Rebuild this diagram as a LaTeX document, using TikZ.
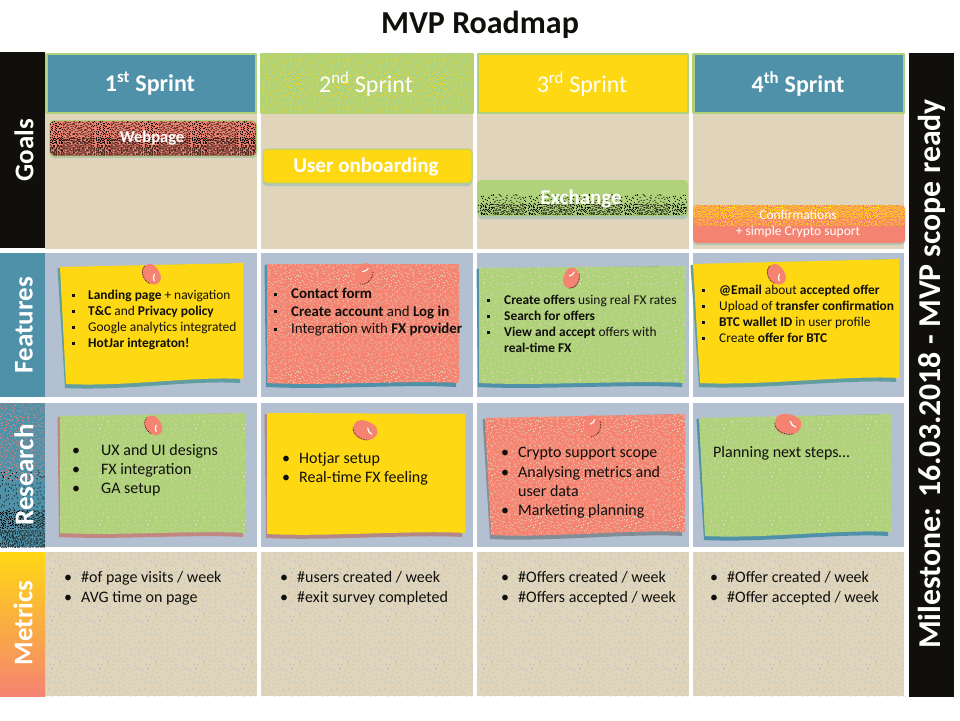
\documentclass[tikz,border=0pt]{standalone}
\usepackage{fontspec}
\setmainfont{Carlito}
\usetikzlibrary{patterns}
\definecolor{teal}{HTML}{4F91A8}
\definecolor{grn}{HTML}{AFD27A}
\definecolor{yel}{HTML}{FFD814}
\definecolor{coral}{HTML}{F58371}
\definecolor{beige}{HTML}{E0D5BA}
\definecolor{slate}{HTML}{B3C0D1}
\definecolor{ink}{HTML}{100F0C}
\pgfmathsetseed{4711}
% tiled one-pixel dither: name, cell size; one jittered dot per cell of a 48-pixel tile
\newcommand\dither[2]{%
  \pgfdeclarepatternformonly{#1}{\pgfpointorigin}{\pgfpoint{48pt}{48pt}}{\pgfpoint{48pt}{48pt}}{%
    \pgfmathtruncatemacro\cells{48/#2}%
    \foreach \i in {1,...,\cells}{\foreach \j in {1,...,\cells}{%
      \pgfmathtruncatemacro\px{(\i-1)*#2+int(rnd*#2)}\pgfmathtruncatemacro\py{(\j-1)*#2+int(rnd*#2)}%
      \pgfpathrectangle{\pgfpoint{\px pt}{\py pt}}{\pgfpoint{1pt}{1pt}}\pgfusepath{fill}}}}}
\dither{dsparse}{4}
\dither{dmid}{3}
\dither{ddense}{2}
\dither{dheavy}{2}
\newcommand\sq{\makebox[\ind][l]{\rule[0.2em]{3pt}{3pt}}}
\newcommand\rd{\makebox[\ind][l]{•}}
\newcommand\nb{\makebox[\ind][l]{}}
\newlength\ind
% name, x, y of first line, size, leading, indent, lines
\newcommand\listnode[7]{%
  \setlength\ind{#6pt}%
  \node[lst,font=\fontsize{#4}{#5}\selectfont] (#1) at ({#2},{#3+0.23*#4-0.7*#5}) {#7};}
% corners: tl, tr, br, bl; fill; shadow; dither options
\newcommand\note[7]{%
  \fill[#6] ([shift={(-2.5,1)}]#1) -- ([shift={(-2,0)}]#2) -- ([shift={(-3,4)}]#3)
     .. controls +(-50,-3) and +(60,3) .. ([shift={(-1,4)}]#4) -- cycle;
  \fill[#5] (#1) -- (#2) -- (#3) .. controls +(-50,-3) and +(60,3) .. (#4) -- cycle;
  \path[#7] (#1) -- (#2) -- (#3) .. controls +(-50,-3) and +(60,3) .. (#4) -- cycle;}
\newcommand\pin[4]{%
  \begin{scope}[shift={(#1,#2)},rotate=#3,scale=#4]
    \fill[coral] (-10,-1) .. controls (-10,-8) and (0,-9) .. (6,-7)
       .. controls (11,-5) and (11,2) .. (6,5) .. controls (0,9) and (-10,8) .. cycle;
    \draw[ink,densely dotted,line width=.7pt] (-10,1) .. controls (-9,6) and (0,9) .. (6,5);
    \draw[white,line width=1.2pt,line cap=round] (1,-3) .. controls (2,-1) and (4,0) .. (6,0);
  \end{scope}}
\tikzset{
  lst/.style={anchor=north west,inner sep=0pt,align=left,text=ink},
  hdr/.style={draw=grn,line width=2.6pt},
  hlabel/.style={text=white,inner sep=0pt,font=\fontsize{24}{26}\selectfont},
  goal/.style={rounded corners=4pt,draw=grn,line width=1pt},
  glow/.style={fill=slate!70!grn,rounded corners=4pt},
  glabel/.style={text=white,inner sep=0pt,font=\fontsize{21}{23}\selectfont\bfseries},
  side/.style={text=white,rotate=90,font=\fontsize{27}{29}\selectfont\bfseries,inner sep=0pt},
  sparse/.style={pattern=dsparse,pattern color=#1},
  mid/.style={pattern=dmid,pattern color=#1},
  dense/.style={pattern=ddense,pattern color=#1},
  heavy/.style={pattern=dheavy,pattern color=#1},
}
\begin{document}
\begin{tikzpicture}[x=1pt,y=-1pt,line join=round]
\useasboundingbox (0,0) rectangle (960,720);
\fill[white] (0,0) rectangle (960,720);
\node[font=\fontsize{32}{34}\selectfont\bfseries,text=ink,inner sep=0pt] (title) at (480,25) {MVP Roadmap};

% grid cells
\foreach \a/\b in {45/257,261/473,477/689,693/904}{
  \fill[beige] (\a,113) rectangle (\b,249);
  \fill[slate] (\a,253) rectangle (\b,397);
  \fill[slate] (\a,403) rectangle (\b,547);
  \fill[beige] (\a,552) rectangle (\b,696);
  \path[sparse=slate] (\a,552) rectangle (\b,696);
}

% sprint headers
\draw[hdr,fill=teal] (46.5,54) rectangle (256,113);
\draw[hdr,fill=grn] (261,54) rectangle (473,113);
\path[mid=yel] (261,54) rectangle (473,113);
\draw[hdr,fill=yel] (478,54) rectangle (688,113);
\draw[hdr,fill=teal] (693.5,54) rectangle (904,113);
\node[hlabel,font=\fontsize{24}{26}\selectfont\bfseries] (s1) at (150,84) {1\textsuperscript{st} Sprint};
\node[hlabel] (s2) at (366,84) {2\textsuperscript{nd} Sprint};
\node[hlabel] (s3) at (582,84) {3\textsuperscript{rd} Sprint};
\node[hlabel,font=\fontsize{24}{26}\selectfont\bfseries] (s4) at (798,84) {4\textsuperscript{th} Sprint};

% row labels
\fill[ink] (0,52) rectangle (45,248);
\fill[teal] (0,253) rectangle (45,397);
\fill[teal] (0,403) rectangle (45,547);
\path[mid=coral] (0,403) rectangle (45,480);
\path[sparse=ink] (0,470) rectangle (45,547);
\path[dense=ink] (0,510) rectangle (45,547);
\shade[top color=yel,middle color=yel!55!coral,bottom color=coral] (0,552) rectangle (45,696);
\fill[ink] (909,53) rectangle (954,697);
\node[side] (goals) at (24,150) {Goals};
\node[side] (features) at (24,325) {Features};
\node[side] (research) at (24,475) {Research};
\node[side] (metrics) at (23,623) {Metrics};
\node[side,font=\fontsize{31.8}{34}\selectfont\bfseries] (mile) at (932,374) {Milestone: 16.03.2018 - MVP scope ready};

% goals
\fill[glow] (50,122) rectangle (257,158);
\draw[goal,fill=coral] (49.5,120.5) rectangle (256.5,156);
\path[dense=ink,rounded corners=4pt] (50,121) rectangle (256,155.5);
\path[heavy=ink,rounded corners=4pt] (50,138) rectangle (256,155.5);
\node[glabel,font=\fontsize{16.5}{18}\selectfont\bfseries] (webpage) at (152,138.5) {Webpage};
\fill[glow] (263,152) rectangle (472,186);
\draw[goal,fill=yel] (263,149) rectangle (472,183);
\node[glabel] (user) at (366,167) {User onboarding};
\fill[glow] (478,182) rectangle (688,219);
\fill[grn,rounded corners=4pt] (477,180) rectangle (688,216);
\path[mid=ink,rounded corners=4pt] (478,194) rectangle (687,215);
\path[dense=ink,rounded corners=4pt] (478,204) rectangle (687,215);
\node[glabel] (exchange) at (581,199) {Exchange};
\fill[glow] (693,207) rectangle (905,245);
\fill[coral,rounded corners=4pt] (693,205) rectangle (905,243);
\path[heavy=yel,rounded corners=4pt] (693,205) rectangle (905,226);
\path[dense=yel,rounded corners=4pt] (693,205) rectangle (905,218);
\node[text=white,font=\fontsize{13.5}{16}\selectfont,inner sep=0pt,align=center] (confirm) at (798,223.5) {Confirmations\\+ simple Crypto suport};

% feature notes
\note{60,267}{243,263}{243,379}{66,384}{yel}{teal!80!grn}{}
\note{267,264}{459,264}{459,383}{267,383}{coral}{teal}{mid=beige}
\note{479,268}{685,266}{685,383}{479,383}{grn}{teal}{sparse=beige}
\note{693,264}{899,259}{899,378}{700,383}{yel}{teal!80!grn}{}
% research notes
\note{60,416}{246,413}{246,533}{60,533}{grn}{coral!70!teal}{sparse=beige}
\note{267,413}{465,414}{465,533}{267,534}{yel}{coral!60!teal}{}
\note{485,418}{685,414}{685,532}{491,535}{coral}{teal!70!coral}{mid=beige}
\note{699,418}{891,414}{891,532}{705,536}{grn}{teal}{sparse=beige}

% pins
\pin{151}{275}{-60}{1.1}
\pin{365}{274}{60}{1.1}
\pin{572}{278}{70}{1.05}
\pin{776}{275}{-60}{1.1}
\pin{153}{426}{-60}{1.05}
\pin{365}{431}{-25}{1.25}
\pin{593}{426}{75}{1.1}
\pin{788}{425}{-15}{1.35}

% feature lists
\listnode{f1}{72}{296}{13.4}{16}{16}{%
\sq\strut\textbf{Landing page} + navigation\\
\sq\strut\textbf{T\&C} and \textbf{Privacy policy}\\
\sq\strut Google analytics integrated\\
\sq\strut\textbf{HotJar integraton!}}
\listnode{f2}{274}{295}{14.9}{17.5}{17}{%
\sq\strut\textbf{Contact form}\\
\sq\strut\textbf{Create account} and \textbf{Log in}\\
\sq\strut Integration with \textbf{FX provider}}
\listnode{f3}{487}{301}{13.4}{16}{17}{%
\sq\strut\textbf{Create offers} using real FX rates\\
\sq\strut\textbf{Search for offers}\\
\sq\strut\textbf{View and accept} offers with\\
\nb\strut\textbf{real-time FX}}
\listnode{f4}{702}{291}{13.4}{16}{17}{%
\sq\strut\textbf{@Email} about \textbf{accepted offer}\\
\sq\strut Upload of \textbf{transfer confirmation}\\
\sq\strut\textbf{BTC wallet ID} in user profile\\
\sq\strut Create \textbf{offer for BTC}}

% research lists
\listnode{r1}{72}{452}{16}{19}{29}{%
\rd\strut UX and UI designs\\
\rd\strut FX integration\\
\rd\strut GA setup}
\listnode{r2}{282}{460}{16}{19}{17}{%
\rd\strut Hotjar setup\\
\rd\strut Real-time FX feeling}
\listnode{r3}{501}{454}{16}{19.3}{17}{%
\rd\strut Crypto support scope\\
\rd\strut Analysing metrics and\\
\nb\strut user data\\
\rd\strut Marketing planning}
\node[lst,font=\fontsize{16}{19}\selectfont,anchor=west] (r4) at (713,453) {Planning next steps…};

% metrics lists
\listnode{m1}{64}{579}{16}{19.3}{17}{%
\rd\strut\#of page visits / week\\
\rd\strut AVG time on page}
\listnode{m2}{280}{579}{16}{19.3}{17}{%
\rd\strut\#users created / week\\
\rd\strut\#exit survey completed}
\listnode{m3}{501}{579}{16}{19.3}{17}{%
\rd\strut\#Offers created / week\\
\rd\strut\#Offers accepted / week}
\listnode{m4}{710}{579}{16}{19.3}{17}{%
\rd\strut\#Offer created / week\\
\rd\strut\#Offer accepted / week}
\end{tikzpicture}
\end{document}
